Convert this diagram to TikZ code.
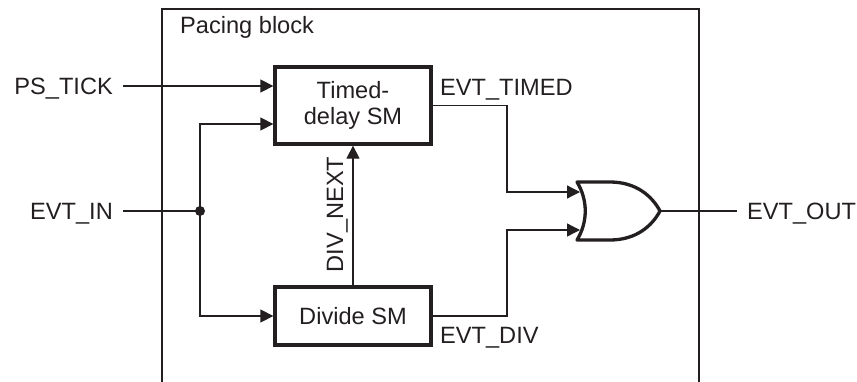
\documentclass[tikz,border=0pt]{standalone}
\usepackage{fontspec}
\setmainfont{Liberation Sans}
\usetikzlibrary{arrows.meta,calc}
\definecolor{ink}{RGB}{35,31,32}
\begin{document}
\begin{tikzpicture}[x=1pt,y=-1pt,
 lbl/.style={font=\fontsize{23.6}{26}\selectfont, text=ink, inner sep=0pt},
 sm/.style={lbl, draw=ink, line width=3.3pt, minimum width=156pt, align=center},
 wire/.style={draw=ink, line width=1.3pt},
 arr/.style={wire, -{Triangle[length=13pt,width=13pt]}},
 gate/.style={draw=ink, line width=3.3pt, line join=round},
 frame/.style={draw=ink, line width=2.6pt},
]
\useasboundingbox (0,0) rectangle (857,381);
% outer frame (open at the bottom)
\draw[frame] (162,395) -- (162,9) -- (699,9) -- (699,395);
\node[lbl, anchor=base west] (title) at (180,33) {Pacing block};

% state machines
\node[sm, minimum height=77pt] (timed) at (353,105.5) {Timed-\\delay SM};
\node[sm, minimum height=58pt] (divide) at (353,316) {Divide SM};

% inputs
\node[lbl, anchor=base east] (pstick) at (113,94.5) {PS\_TICK};
\coordinate (ps0) at (123,86);
\draw[arr] (ps0) -- (timed.west |- ps0);

\node[lbl, anchor=base east] (evtin) at (113,219.5) {EVT\_IN};
\coordinate (in0) at (123,211);
\coordinate (dot) at (200,211);
\draw[wire] (in0) -- (dot);
\fill[ink] (dot) circle (5pt);
\draw[arr] (dot) |- ($(timed.west)+(0,18.5)$);
\draw[arr] (dot) |- (divide.west);

% DIV_NEXT feedback
\draw[arr] (divide.north) -- (timed.south);
\node[lbl, rotate=90, anchor=base] (divnext) at (343,214.5) {DIV\_NEXT};

% OR gate
\draw[gate] (577,182) -- (610,182) .. controls (636,182) and (652,196) .. (660,211)
  .. controls (652,226) and (636,240) .. (610,240) -- (577,240)
  .. controls (588,222) and (588,200) .. (577,182) -- cycle;
\coordinate (g1) at (580,192);
\coordinate (g2) at (580,230);
\coordinate (g0) at (660,211);
\coordinate (j1) at (507,192);
\coordinate (j2) at (507,230);

\draw[arr] (timed.east) -| (j1) -- (g1);
\draw[arr] (divide.east) -| (j2) -- (g2);
\node[lbl, anchor=base west] (evttimed) at (440,95.5) {EVT\_TIMED};
\node[lbl, anchor=base west] (evtdiv) at (440,343) {EVT\_DIV};

% output
\coordinate (out0) at (737,211);
\draw[wire] (g0) -- (out0);
\node[lbl, anchor=base west] (evtout) at (747,219.5) {EVT\_OUT};
\end{tikzpicture}
\end{document}
